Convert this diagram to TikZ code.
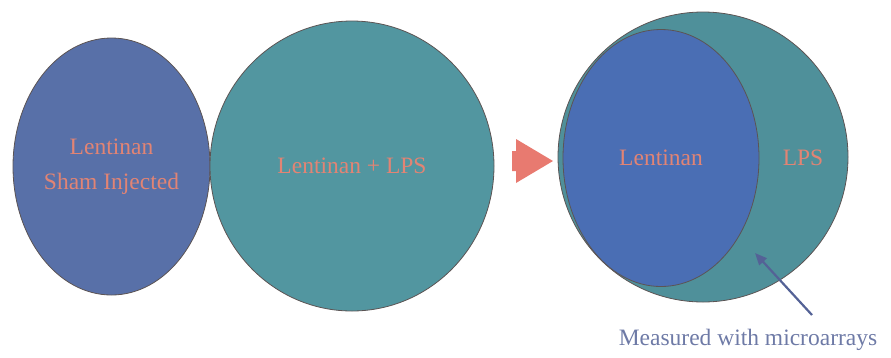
\documentclass[tikz,border=0pt]{standalone}
\usepackage{fontspec}
\setmainfont{Liberation Serif}
\newfontfamily\labelfont{Liberation Serif}
\usetikzlibrary{shapes.geometric, positioning, arrows.meta}

\definecolor{shamblue}{RGB}{88,112,168}
\definecolor{lpsteal}{RGB}{82,150,160}
\definecolor{lenblue}{RGB}{74,110,180}
\definecolor{rimgray}{RGB}{92,84,84}
\definecolor{salmon}{RGB}{226,132,116}
\definecolor{pinkarrow}{RGB}{232,122,112}
\definecolor{slate}{RGB}{84,98,150}

\begin{document}
\begin{tikzpicture}
	[x=1pt, y=-1pt, on grid,
	 blob/.style={ellipse, draw=rimgray, line width=0.8pt, inner sep=0pt,
	   align=center, text=salmon, font=\labelfont\fontsize{23.5}{35}\selectfont},
	 tag/.style={text=salmon, font=\labelfont\fontsize{23.5}{28}\selectfont}]
   \useasboundingbox (0,0) rectangle (891,357);
   % before
   \node[blob, fill=shamblue, minimum width=197pt, minimum height=257pt] (sham) at (111.5,166.5) {Lentinan\\Sham Injected};
   \node[blob, fill=lpsteal, minimum width=284pt, minimum height=290pt] (both) at (352,166) {Lentinan + LPS};
   % block arrow
   \fill[pinkarrow] (512,151) -- (516,151) -- (516,139) -- (553,161)
     -- (516,183) -- (516,171) -- (512,171) -- cycle;
   % after
   \node[blob, fill=lpsteal!96!black, minimum width=290pt, minimum height=290pt] (lps) at (703,157) {};
   \node[blob, fill=lenblue, minimum width=196pt, minimum height=257pt] (len) at (661,158) {Lentinan};
   \node[tag] (lpslabel) [right=142pt of len] {LPS};
   % microarrays
   \node[text=slate!85!white, font=\labelfont\fontsize{23.5}{28}\selectfont] (micro) at (748,340) {Measured with microarrays};
   \coordinate (tail) at (812,315);
   \coordinate (head) at (755,253);
   \draw[slate, line width=2.2pt, -{Triangle[length=12pt, width=10pt]}] (tail) -- (head);
\end{tikzpicture}
\end{document}
